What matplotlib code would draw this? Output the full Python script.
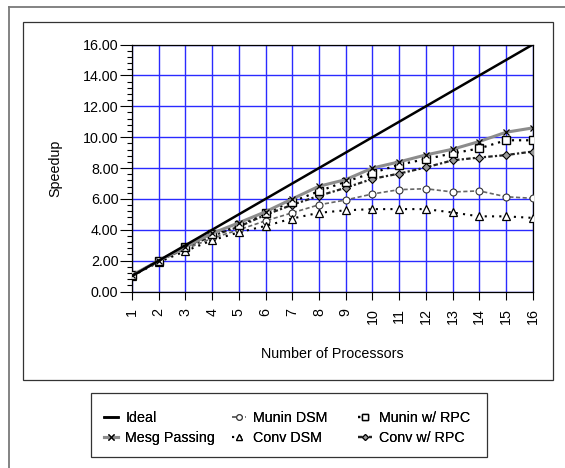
import matplotlib
matplotlib.use("Agg")
import matplotlib.pyplot as plt
from matplotlib.lines import Line2D
from matplotlib.patches import Rectangle
from matplotlib.ticker import MultipleLocator, FormatStrFormatter

procs = list(range(1, 17))
ideal = [1, 2, 3, 4, 5, 6, 7, 8, 9, 10, 11, 12, 13, 14, 15, 16]
mesg_passing = [1.05, 2.0, 2.9, 3.77, 4.45, 5.17, 6.0, 6.82, 7.25, 8.0, 8.4, 8.85, 9.22, 9.72, 10.32, 10.6]
munin_rpc = [1.05, 2.0, 2.88, 3.7, 4.3, 5.1, 5.82, 6.5, 7.12, 7.68, 8.22, 8.58, 8.95, 9.27, 9.8, 9.8]
conv_rpc = [1.05, 1.98, 2.85, 3.6, 4.2, 4.97, 5.62, 6.2, 6.72, 7.3, 7.64, 8.04, 8.5, 8.68, 8.84, 9.07]
munin_dsm = [1.0, 1.95, 2.75, 3.45, 4.0, 4.58, 5.1, 5.62, 5.93, 6.32, 6.6, 6.66, 6.45, 6.52, 6.14, 6.04]
conv_dsm = [1.0, 1.9, 2.62, 3.32, 3.83, 4.25, 4.73, 5.1, 5.26, 5.34, 5.34, 5.34, 5.12, 4.87, 4.87, 4.77]

plt.rcParams['font.family'] = ['Liberation Sans', 'DejaVu Sans']

W, H = 565, 468
fig = plt.figure(figsize=(W / 100, H / 100), dpi=100)

def fx(px):
    return px / W

def fy(py):
    return 1 - py / H

# frames
fig.add_artist(Line2D([fx(9.3), fx(9.3)], [0, fy(7.3)], color='#7a7a7a', lw=1.3, transform=fig.transFigure))
fig.add_artist(Line2D([fx(9.3), 1], [fy(7.3), fy(7.3)], color='#7a7a7a', lw=1.3, transform=fig.transFigure))
fig.add_artist(Rectangle((fx(23.3), fy(380)), fx(553.3) - fx(23.3), fy(22.3) - fy(380),
                         fill=False, ec='#333333', lw=0.9, transform=fig.transFigure))
fig.add_artist(Rectangle((fx(90.7), fy(456.7)), fx(486.7) - fx(90.7), fy(393.3) - fy(456.7),
                         fill=False, ec='#333333', lw=0.9, transform=fig.transFigure))

ax = fig.add_axes([fx(132), fy(291.5), fx(532.7) - fx(132), fy(44.6) - fy(291.5)])
ax.set_xlim(1, 16)
ax.set_ylim(0, 16)
ax.set_xticks(procs)
ax.set_xticklabels([str(p) for p in procs], rotation=90)
ax.yaxis.set_major_locator(MultipleLocator(2))
ax.yaxis.set_minor_locator(MultipleLocator(0.4))
ax.yaxis.set_major_formatter(FormatStrFormatter('%.2f'))
ax.grid(True, which='major', color='#2a2aff', lw=1.0)
ax.set_axisbelow(True)
for s in ax.spines.values():
    s.set_color('black')
    s.set_linewidth(0.9)
ax.tick_params(axis='x', which='major', length=5.8, width=0.8, pad=6, labelsize=10.3, direction='out')
ax.tick_params(axis='y', which='major', length=8.6, width=0.8, pad=1.2, labelsize=10.3, direction='out')
ax.tick_params(axis='y', which='minor', length=3.6, width=0.8, direction='out')

h_ideal, = ax.plot(procs, ideal, color='black', lw=1.8, label='Ideal', zorder=5)
h_crpc, = ax.plot(procs, conv_rpc, color='#222222', lw=1.6, ls=(0, (2, 1, 1, 1)), marker='D', ms=3.8,
                  mfc='#999999', mec='black', mew=0.8, label='Conv w/ RPC', zorder=3)
h_mdsm, = ax.plot(procs, munin_dsm, color='#666666', lw=1.2, ls=(0, (2.5, 1.5)), marker='o', ms=5,
                  mfc='white', mec='#333333', mew=0.8, label='Munin DSM', zorder=3)
h_cdsm, = ax.plot(procs, conv_dsm, color='black', lw=1.5, ls=(0, (1, 2.5)), marker='^', ms=5.5,
                  mfc='white', mec='black', mew=0.9, label='Conv DSM', zorder=3)
h_mrpc, = ax.plot(procs, munin_rpc, color='black', lw=1.6, ls=(0, (1, 2.2)), marker='s', ms=6,
                  mfc='white', mec='black', mew=1.0, label='Munin w/ RPC', zorder=4)
h_mesg, = ax.plot(procs, mesg_passing, color='#8c8c8c', lw=2.2, marker='x', ms=5,
                  mec='black', mew=0.9, label='Mesg Passing', zorder=4)

fig.text(fx(55.5), fy(168), 'Speedup', rotation=90, ha='center', va='center', fontsize=10.3)
fig.text(fx(332), fy(354), 'Number of Processors', ha='center', va='center', fontsize=10.3)

cols = [([h_ideal, h_mesg], 106), ([h_mdsm, h_cdsm], 234), ([h_mrpc, h_crpc], 360)]
for handles, xpx in cols:
    leg = fig.legend(handles=handles, labels=[h.get_label() for h in handles],
                     loc='upper left', bbox_to_anchor=(fx(xpx) - 0.004, fy(411)),
                     frameon=False, fontsize=10.3, handlelength=1.0, handletextpad=0.5,
                     labelspacing=0.4, borderpad=0, borderaxespad=0, numpoints=1,
                     markerscale=0.8)
    fig.add_artist(leg)

fig.savefig('out.png', dpi=100)
